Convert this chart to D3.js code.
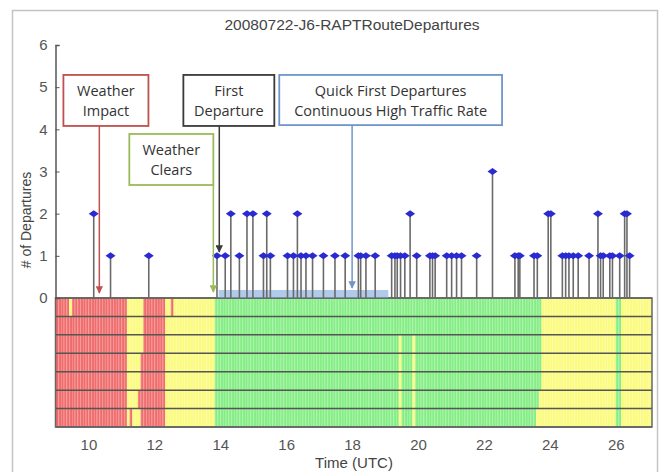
<!DOCTYPE html>
<html>
<head>
<meta charset="utf-8">
<script src="https://cdn.jsdelivr.net/npm/d3@7"></script>
<style>
  body { margin: 0; background: #fff; }
  svg { display: block; font-family: "Liberation Sans", Arial, sans-serif; }
</style>
</head>
<body>
<svg id="chart" width="660" height="472"></svg>
<script>
// horários das partidas (UTC, em horas decimais) e quantidade em cada
const depTimes = [
  10.16, 10.67, 11.83,
  13.9, 14.15, 14.32, 14.58, 14.81, 14.99, 15.31, 15.41, 15.52,
  16.04, 16.22, 16.34, 16.45, 16.6, 16.8,
  17.13, 17.48, 17.79, 18.19, 18.26, 18.42, 18.7,
  19.2, 19.3, 19.37, 19.47, 19.6, 19.76, 19.96,
  20.36, 20.44, 20.52, 20.87, 21.02, 21.17, 21.32, 21.78, 22.26,
  22.94, 23.04, 23.09, 23.52, 23.62, 23.95, 24.03,
  24.38, 24.48, 24.58, 24.71, 24.86, 25.19, 25.46, 25.54, 25.62, 25.82, 25.9,
  26.12, 26.27, 26.34, 26.42
];
const depCounts = [
  2, 1, 1,
  1, 1, 2, 1, 2, 2, 1, 2, 1,
  1, 1, 2, 1, 1, 1,
  1, 1, 1, 1, 1, 1, 1,
  1, 1, 1, 1, 1, 2, 1,
  1, 1, 1, 1, 1, 1, 1, 1, 3,
  1, 1, 1, 1, 1, 2, 2,
  1, 1, 1, 1, 1, 1, 2, 1, 1, 1, 1,
  1, 2, 2, 1
];

// estado do tempo por linha da grade: [início, fim, estado]
const rowRuns = [
  [[9, 9.42, "R"], [9.42, 9.5, "Y"], [9.5, 11.16, "R"], [11.16, 11.7, "Y"], [11.7, 12.37, "R"], [12.37, 12.53, "Y"], [12.53, 12.6, "R"], [12.6, 13.87, "Y"], [13.87, 23.76, "G"], [23.76, 26.0, "Y"], [26.0, 26.13, "G"], [26.13, 27.1, "Y"]],
  [[9, 11.16, "R"], [11.16, 11.7, "Y"], [11.7, 12.37, "R"], [12.37, 13.87, "Y"], [13.87, 23.76, "G"], [23.76, 26.0, "Y"], [26.0, 26.13, "G"], [26.13, 27.1, "Y"]],
  [[9, 11.16, "R"], [11.16, 11.67, "Y"], [11.67, 12.37, "R"], [12.37, 13.87, "Y"], [13.87, 19.42, "G"], [19.42, 19.5, "Y"], [19.5, 19.83, "G"], [19.83, 19.92, "Y"], [19.92, 23.76, "G"], [23.76, 26.0, "Y"], [26.0, 26.13, "G"], [26.13, 27.1, "Y"]],
  [[9, 11.16, "R"], [11.16, 11.6, "Y"], [11.6, 12.37, "R"], [12.37, 13.87, "Y"], [13.87, 19.42, "G"], [19.42, 19.5, "Y"], [19.5, 19.83, "G"], [19.83, 19.92, "Y"], [19.92, 23.76, "G"], [23.76, 26.0, "Y"], [26.0, 26.13, "G"], [26.13, 27.1, "Y"]],
  [[9, 11.16, "R"], [11.16, 11.55, "Y"], [11.55, 12.32, "R"], [12.32, 13.87, "Y"], [13.87, 19.42, "G"], [19.42, 19.5, "Y"], [19.5, 19.83, "G"], [19.83, 19.92, "Y"], [19.92, 23.76, "G"], [23.76, 26.0, "Y"], [26.0, 26.13, "G"], [26.13, 27.1, "Y"]],
  [[9, 11.16, "R"], [11.16, 11.5, "Y"], [11.5, 12.32, "R"], [12.32, 13.87, "Y"], [13.87, 19.42, "G"], [19.42, 19.5, "Y"], [19.5, 19.83, "G"], [19.83, 19.92, "Y"], [19.92, 23.7, "G"], [23.7, 26.0, "Y"], [26.0, 26.13, "G"], [26.13, 27.1, "Y"]],
  [[9, 11.16, "R"], [11.16, 11.25, "Y"], [11.25, 11.33, "R"], [11.33, 11.55, "Y"], [11.55, 12.32, "R"], [12.32, 13.87, "Y"], [13.87, 19.42, "G"], [19.42, 19.5, "Y"], [19.5, 19.83, "G"], [19.83, 19.92, "Y"], [19.92, 23.6, "G"], [23.6, 26.0, "Y"], [26.0, 26.13, "G"], [26.13, 27.1, "Y"]]
];

const xTicks = [10, 12, 14, 16, 18, 20, 22, 24, 26];
const yTicks = [0, 1, 2, 3, 4, 5, 6];

// faixa azul de tráfego contínuo
const highTraffic = [13.95, 19.1, 0.19];

// caixas de anotação: texto, [t0, t1], [v topo, v base], seta [t, v final]
const notes = [
  { lines: ["Weather", "Impact"], t: [9.24, 11.82], v: [5.29, 4.08], arrow: [10.33, 0.12], color: "#c0504d" },
  { lines: ["Weather", "Clears"], t: [11.24, 13.79], v: [3.89, 2.68], arrow: [13.79, 0.14], color: "#9bbb59" },
  { lines: ["First", "Departure"], t: [12.88, 15.64], v: [5.29, 4.08], arrow: [13.97, 1.09], color: "#3a3a3a" },
  { lines: ["Quick First Departures", "Continuous High Traffic Rate"], t: [15.79, 22.55], v: [5.29, 4.1], arrow: [18.0, 0.24], color: "#6f95cc" }
];

const stateColors = { R: "#f06b6b", Y: "#fbfb7c", G: "#84ee84" };

const svg = d3.select("#chart");

// moldura externa cinza
svg.append("rect")
  .attr("x", 12.5).attr("y", 10.5)
  .attr("width", 645).attr("height", 480)
  .attr("fill", "none").attr("stroke", "#c4c4c4").attr("stroke-width", 1.5);

const x = d3.scaleLinear().domain([9, 27.1]).range([55.5, 652]);
const y = d3.scaleLinear().domain([0, 6]).range([298, 45]);
const rows = d3.scaleBand().domain(d3.range(rowRuns.length)).range([298, 427]);

// grade colorida (células de 5 minutos)
const binStarts = d3.range(9, 27.1 - 1e-6, 1 / 12);
const grid = svg.append("g");

rowRuns.forEach((runs, r) => {
  const stateAt = (t) => (runs.find((s) => t >= s[0] && t < s[1]) || runs[runs.length - 1])[2];
  grid.selectAll(null)
    .data(binStarts)
    .enter()
    .append("rect")
    .attr("x", (d) => x(d))
    .attr("y", rows(r))
    .attr("width", (d) => x(Math.min(d + 1 / 12, 27.1)) - x(d))
    .attr("height", rows.bandwidth())
    .attr("fill", (d) => stateColors[stateAt(d + 1 / 24)]);
});

// listras verticais claras
grid.selectAll(".stripe")
  .data(binStarts.slice(1))
  .enter()
  .append("line")
  .attr("class", "stripe")
  .attr("x1", (d) => x(d) + 0.5).attr("x2", (d) => x(d) + 0.5)
  .attr("y1", 298).attr("y2", 427)
  .attr("stroke", "#fff").attr("stroke-opacity", 0.22).attr("stroke-width", 1);

// linhas horizontais entre as linhas da grade
grid.selectAll(".row-line")
  .data(d3.range(rowRuns.length + 1))
  .enter()
  .append("line")
  .attr("class", "row-line")
  .attr("x1", x(9)).attr("x2", x(27.1))
  .attr("y1", (d) => (d === rowRuns.length ? 427 : rows(d)))
  .attr("y2", (d) => (d === rowRuns.length ? 427 : rows(d)))
  .attr("stroke", "#555").attr("stroke-width", 1.5);

grid.append("rect")
  .attr("x", x(9)).attr("y", 298)
  .attr("width", x(27.1) - x(9)).attr("height", 129)
  .attr("fill", "none").attr("stroke", "#666").attr("stroke-width", 1.5);

// faixa azul
svg.append("rect")
  .attr("x", x(highTraffic[0]))
  .attr("y", y(highTraffic[2]))
  .attr("width", x(highTraffic[1]) - x(highTraffic[0]))
  .attr("height", y(0) - y(highTraffic[2]))
  .attr("fill", "#7fa6dc").attr("opacity", 0.6);

// hastes (stem) das partidas
const deps = depTimes.map((t, i) => ({ t, n: depCounts[i] }));

svg.append("g")
  .selectAll("line")
  .data(deps)
  .enter()
  .append("line")
  .attr("x1", (d) => x(d.t)).attr("x2", (d) => x(d.t))
  .attr("y1", y(0)).attr("y2", (d) => y(d.n))
  .attr("stroke", "#6a6a6a").attr("stroke-width", 1.6);

svg.append("g")
  .selectAll("path")
  .data(deps)
  .enter()
  .append("path")
  .attr("transform", (d) => `translate(${x(d.t)},${y(d.n)})`)
  .attr("d", "M-5,0 L0,-3.5 L5,0 L0,3.5 Z")
  .attr("fill", "#2a2ad2");

// eixo y
const yAxis = svg.append("g")
  .attr("transform", `translate(${x(9)},0)`)
  .call(d3.axisLeft(y).tickValues(yTicks).tickFormat(d3.format("d")).tickSize(-4).tickPadding(8));
yAxis.select(".domain").attr("stroke", "#555").attr("stroke-width", 1.5);
yAxis.selectAll(".tick line").attr("stroke", "#555");
yAxis.selectAll("text").attr("font-size", 15).attr("fill", "#555").attr("font-family", "Liberation Sans, Arial, sans-serif");

// eixo x
const xAxis = svg.append("g")
  .attr("transform", "translate(0,427)")
  .call(d3.axisBottom(x).tickValues(xTicks).tickSize(0).tickPadding(12));
xAxis.select(".domain").remove();
xAxis.selectAll("text").attr("font-size", 15).attr("fill", "#555").attr("font-family", "Liberation Sans, Arial, sans-serif");

// títulos
svg.append("text")
  .attr("x", 352).attr("y", 30)
  .attr("text-anchor", "middle")
  .attr("font-size", 15.5).attr("fill", "#444")
  .text("20080722-J6-RAPTRouteDepartures");

svg.append("text")
  .attr("x", 354).attr("y", 468)
  .attr("text-anchor", "middle")
  .attr("font-size", 15).attr("fill", "#444")
  .text("Time (UTC)");

svg.append("text")
  .attr("transform", "translate(31,220) rotate(-90)")
  .attr("text-anchor", "middle")
  .attr("font-size", 14).attr("fill", "#444")
  .text("# of Departures");

// anotações com setas
const defs = svg.append("defs");
notes.forEach((n, i) => {
  defs.append("marker")
    .attr("id", "arrow" + i)
    .attr("viewBox", "0 0 10 10")
    .attr("refX", 9).attr("refY", 5)
    .attr("markerWidth", 5).attr("markerHeight", 5)
    .attr("orient", "auto")
    .append("path")
    .attr("d", "M0,0 L10,5 L0,10 Z")
    .attr("fill", n.color);
});

const noteG = svg.append("g").selectAll("g").data(notes).enter().append("g");

noteG.append("line")
  .attr("x1", (d) => x(d.arrow[0])).attr("x2", (d) => x(d.arrow[0]))
  .attr("y1", (d) => y(d.v[1])).attr("y2", (d) => y(d.arrow[1]))
  .attr("stroke", (d) => d.color).attr("stroke-width", 1.5)
  .attr("marker-end", (d, i) => `url(#arrow${i})`);

noteG.append("rect")
  .attr("x", (d) => x(d.t[0])).attr("y", (d) => y(d.v[0]))
  .attr("width", (d) => x(d.t[1]) - x(d.t[0]))
  .attr("height", (d) => y(d.v[1]) - y(d.v[0]))
  .attr("fill", "#fff").attr("stroke", (d) => d.color).attr("stroke-width", 1.8);

noteG.each(function (d) {
  const cx = (x(d.t[0]) + x(d.t[1])) / 2;
  const top = y(d.v[0]);
  d3.select(this).selectAll("text")
    .data(d.lines)
    .enter()
    .append("text")
    .attr("x", cx)
    .attr("y", (l, j) => top + 21 + j * 20)
    .attr("text-anchor", "middle")
    .attr("font-family", "Open Sans, sans-serif")
    .attr("font-size", 14.5).attr("fill", "#333")
    .text((l) => l);
});
</script>
</body>
</html>
